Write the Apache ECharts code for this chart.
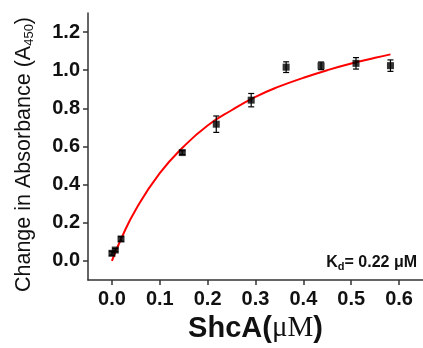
<!DOCTYPE html>
<html>
<head>
<meta charset="utf-8">
<script src="https://cdn.jsdelivr.net/npm/echarts@6/dist/echarts.min.js"></script>
<style>
  html, body { margin: 0; padding: 0; background: #fff; }
  #chart { width: 423px; height: 348px; }
</style>
</head>
<body>
<div id="chart"></div>
<script>
// measured points (ShcA concentration, change in A450, error)
var conc = [0.0, 0.007, 0.019, 0.147, 0.218, 0.291, 0.364, 0.437, 0.510, 0.582];
var absorb = [0.040, 0.057, 0.115, 0.568, 0.717, 0.843, 1.016, 1.023, 1.036, 1.024];
var errs = [0.010, 0.008, 0.012, 0.010, 0.043, 0.035, 0.028, 0.020, 0.030, 0.030];

// fitted curve
var fitX = [0.0, 0.02, 0.05, 0.1, 0.15, 0.2, 0.25, 0.3, 0.35, 0.4, 0.45, 0.5, 0.55, 0.582];
var fitY = [0.0, 0.12, 0.27, 0.46, 0.60, 0.71, 0.79, 0.86, 0.915, 0.96, 1.0, 1.035, 1.065, 1.083];

// tick labels
var xTicks = [0, 0.1, 0.2, 0.3, 0.4, 0.5, 0.6];
var yTicks = [0, 0.2, 0.4, 0.6, 0.8, 1.0, 1.2];

var pts = conc.map(function (x, i) { return [x, absorb[i]]; });
var errData = conc.map(function (x, i) { return [x, absorb[i] - errs[i], absorb[i] + errs[i]]; });
var fitData = fitX.map(function (x, i) { return [x, fitY[i]]; });

var myChart = echarts.init(document.getElementById('chart'));
var axisColor = '#333';
var option = {
  animation: false,
  grid: { left: 88, right: 0, top: 13, bottom: 64 },
  xAxis: {
    type: 'value',
    min: -0.05,
    max: 0.65,
    splitLine: { show: false },
    axisLine: { onZero: false, lineStyle: { color: axisColor, width: 1.5 } },
    axisTick: { show: true, length: 5, customValues: xTicks, lineStyle: { color: axisColor, width: 1.5 } },
    axisLabel: {
      customValues: xTicks,
      margin: 9,
      color: '#111',
      fontSize: 20,
      fontWeight: 'bold',
      fontFamily: 'Liberation Sans, Arial',
      formatter: function (v) { return v.toFixed(1); }
    },
    name: '{a|ShcA(}{b|μM}{a|)}',
    nameLocation: 'middle',
    nameGap: 34,
    nameTextStyle: {
      rich: {
        a: { fontSize: 29, fontWeight: 'bold', fontFamily: 'Liberation Sans, Arial', color: '#111' },
        b: { fontSize: 29, fontFamily: 'Liberation Serif, Times New Roman', color: '#111' }
      }
    }
  },
  yAxis: {
    type: 'value',
    min: -0.1,
    max: 1.3,
    splitLine: { show: false },
    axisLine: { onZero: false, lineStyle: { color: axisColor, width: 1.5 } },
    axisTick: { show: true, length: 5, customValues: yTicks, lineStyle: { color: axisColor, width: 1.5 } },
    axisLabel: {
      customValues: yTicks,
      margin: 8,
      color: '#111',
      fontSize: 20,
      fontWeight: 'bold',
      fontFamily: 'Liberation Sans, Arial',
      formatter: function (v) { return v.toFixed(1); }
    },
    name: '{a|Change in Absorbance (A}{s|450}{a|)}',
    nameLocation: 'middle',
    nameRotate: 90,
    nameGap: 52,
    nameTextStyle: {
      padding: [0, 16, 0, 0],
      rich: {
        a: { fontSize: 21.5, fontFamily: 'Liberation Sans, Arial', color: '#111' },
        s: { fontSize: 13, fontFamily: 'Liberation Sans, Arial', color: '#111', verticalAlign: 'bottom', padding: [10, 0, 0, 0] }
      }
    }
  },
  graphic: [{
    type: 'text',
    right: 6,
    top: 255,
    style: {
      text: '{k|K}{d|d}{k|= 0.22 μM}',
      rich: {
        k: { fontSize: 16, fontWeight: 'bold', fontFamily: 'Liberation Sans, Arial', fill: '#111' },
        d: { fontSize: 11, fontWeight: 'bold', fontFamily: 'Liberation Sans, Arial', fill: '#111', padding: [8, 0, 0, 0] }
      }
    }
  }],
  series: [
    {
      name: 'fit',
      type: 'line',
      data: fitData,
      smooth: true,
      symbol: 'none',
      lineStyle: { color: '#f00', width: 2 },
      z: 3
    },
    {
      name: 'error',
      type: 'custom',
      data: errData,
      renderItem: function (params, api) {
        var x = api.value(0);
        var lo = api.coord([x, api.value(1)]);
        var hi = api.coord([x, api.value(2)]);
        var cap = 3;
        var st = { stroke: '#000', lineWidth: 1.2 };
        return {
          type: 'group',
          children: [
            { type: 'line', shape: { x1: lo[0], y1: lo[1], x2: hi[0], y2: hi[1] }, style: st },
            { type: 'line', shape: { x1: lo[0] - cap, y1: lo[1], x2: lo[0] + cap, y2: lo[1] }, style: st },
            { type: 'line', shape: { x1: hi[0] - cap, y1: hi[1], x2: hi[0] + cap, y2: hi[1] }, style: st }
          ]
        };
      },
      z: 4
    },
    {
      name: 'data',
      type: 'scatter',
      data: pts,
      symbol: 'rect',
      symbolSize: 7,
      itemStyle: { color: '#000' },
      z: 5
    }
  ]
};
myChart.setOption(option);
window.addEventListener('resize', function () {
  myChart.resize();
});
</script>
</body>
</html>
